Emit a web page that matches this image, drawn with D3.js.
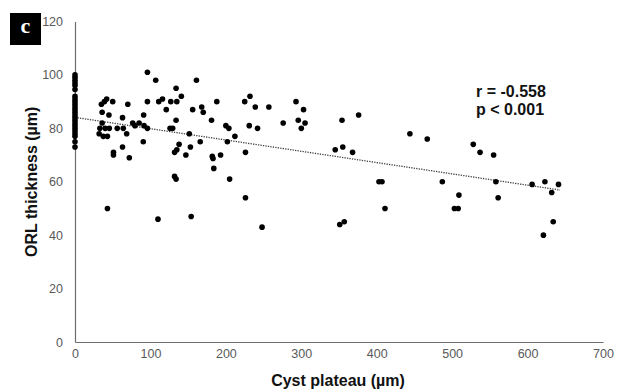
<!DOCTYPE html>
<html>
<head>
<meta charset="utf-8">
<script src="https://cdn.jsdelivr.net/npm/d3@7"></script>
<style>
  html, body { margin: 0; padding: 0; background: #fff; }
  svg { display: block; }
</style>
</head>
<body>
<svg id="chart" width="622" height="392"></svg>
<script>
// ---- data ----
const cystPlateau = [
  0,0,0,0,0,0,0,0,0,0,0,0,0,0,0,0,0,0,0,0,0,0,0,0,
  96,107,161,134,141,96,111,116,127,135,121,35,39,42,50,70,36,45,63,91,156,168,170,188,181,134,36,
  40,33,32,37.5,43,45.5,56,64,68.5,76.5,79.5,85,91.5,96,126,129.5,151.5,166,90.5,63,72,51,51,138,135,132,153,147,182,183,184,132,134,193,
  200,204,212,202,226,231,242,225,232,239,257,276,293,303,296,305,300,345,355,368,354,376,205,
  444,467,528,537,555,
  43,110,154,226,248,351,357,
  403,407,487,558,606,623,641,632,509,561,411,503,508,634,621
];
const orlThickness = [
  100,99,98,97,96,94.5,92,91,90,89,88,87,86,85,84,83,82,81,80,79,78,77,75,73,
  101,98,98,95,92,90,90,91,90,90,87,89,90,91,90,89,86,85,84,85,87,88,86,90,83,83,82,
  80,80,78,77,77,80,80,80,78,82,81,82,81,80,80,80,78,75,75,73,69,71,70,74,72,71,73,70,69.5,68.7,65,62,61,70,
  81,80,77,75,71,81,80,90,92,88,88,82,90,87,83,82,80,72,73,71,83,85,61,
  78,76,74,71,70,
  50,46,47,54,43,44,45,
  60,60,60,60,59,60,59,56,55,54,50,50,50,45,40
];
const xTicks = [0,100,200,300,400,500,600,700];
const yTicks = [0,20,40,60,80,100,120];
const trendX = [0, 643];
const trendY = [84.1, 56.9];
const statLines = ["r = -0.558", "p < 0.001"];
const panelLabel = "c";
const xTitle = "Cyst plateau (µm)";
const yTitle = "ORL thickness (µm)";

// ---- layout ----
const svg = d3.select("#chart");
const mLeft = 75, mRight = 603, mTop = 21.5, mBottom = 342;
const x = d3.scaleLinear().domain([0, 700]).range([mLeft, mRight]);
const y = d3.scaleLinear().domain([0, 120]).range([mBottom, mTop]);
const axisColor = "#6e6e6e";
const labelColor = "#595959";
const font = "Arial, 'Liberation Sans', sans-serif";

// axes
const xAxis = svg.append("g").attr("transform", `translate(0,${mBottom})`)
  .call(d3.axisBottom(x).tickValues(xTicks).tickSize(0).tickPadding(7).tickFormat(d3.format("d")));
const yAxis = svg.append("g").attr("transform", `translate(${mLeft},0)`)
  .call(d3.axisLeft(y).tickValues(yTicks).tickSize(0).tickPadding(12).tickFormat(d3.format("d")));
[xAxis, yAxis].forEach(g => {
  g.select(".domain").attr("stroke", axisColor).attr("stroke-width", 1.2);
  g.selectAll("text").attr("fill", labelColor).style("font-family", font).style("font-size", "12.5px");
});

// trend line
svg.append("line")
  .attr("x1", x(trendX[0])).attr("y1", y(trendY[0]))
  .attr("x2", x(trendX[1])).attr("y2", y(trendY[1]))
  .attr("stroke", "#404040").attr("stroke-width", 1.3)
  .attr("stroke-dasharray", "1.3,1.2");

// points
const pts = cystPlateau.map((v, i) => [v, orlThickness[i]]);
svg.append("g").selectAll("circle").data(pts).join("circle")
  .attr("cx", d => x(d[0])).attr("cy", d => y(d[1]))
  .attr("r", 2.8).attr("fill", "#000");

// stats
svg.append("g").selectAll("text").data(statLines).join("text")
  .attr("x", 476).attr("y", (d, i) => 97 + i * 18.3)
  .style("font-family", font).style("font-size", "16px").style("font-weight", "bold")
  .attr("fill", "#111").text(d => d);

// axis titles
svg.append("text")
  .attr("x", (mLeft + mRight) / 2 - 1).attr("y", 386)
  .attr("text-anchor", "middle")
  .style("font-family", font).style("font-size", "16px").style("font-weight", "bold")
  .attr("fill", "#111").text(xTitle);
svg.append("text")
  .attr("transform", `translate(37,${(mTop + mBottom) / 2}) rotate(-90)`)
  .attr("text-anchor", "middle")
  .style("font-family", font).style("font-size", "16px").style("font-weight", "bold")
  .attr("fill", "#111").text(yTitle);

// panel label
svg.append("rect").attr("x", 10).attr("y", 13).attr("width", 31).attr("height", 32).attr("fill", "#000");
svg.append("text").attr("x", 25.5).attr("y", 33).attr("text-anchor", "middle")
  .style("font-family", "'Liberation Serif', 'Times New Roman', serif")
  .style("font-size", "22px").style("font-weight", "bold")
  .attr("fill", "#fff").text(panelLabel);
</script>
</body>
</html>
